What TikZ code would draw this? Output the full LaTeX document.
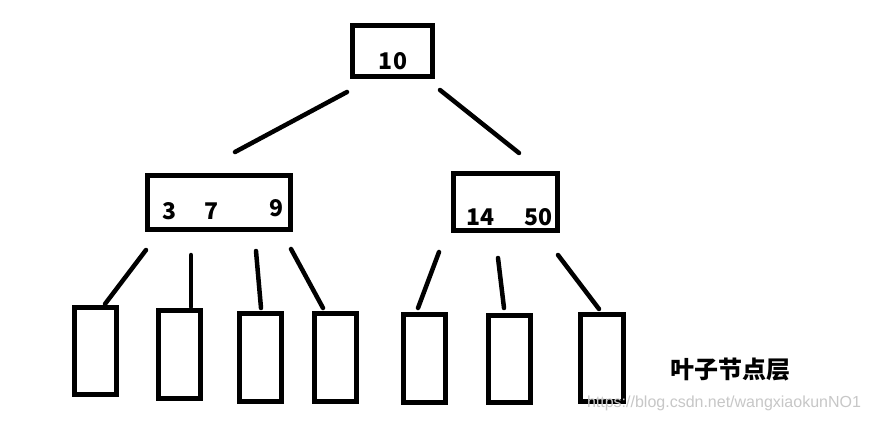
\documentclass[tikz,border=0pt]{standalone}
\usepackage{fontspec}
\setmainfont{Noto Sans CJK SC}
\newfontfamily\wmfont{Liberation Sans}
\begin{document}
\begin{tikzpicture}[x=1pt,y=-1pt,
  box/.style={draw,line width=5pt,inner sep=0pt,minimum width=#1},
  lbl/.style={font=\fontsize{23}{27}\selectfont\bfseries,inner sep=0pt},
  edge/.style={line width=4.5pt,line cap=round}]
\useasboundingbox[fill=white] (0,0) rectangle (869,423);
% nodes
\node[box=80pt,minimum height=51pt] (root) at (392.5,51) {};
\node[box=143pt,minimum height=54pt] (left) at (219,202.5) {};
\node[box=104pt,minimum height=57pt] (right) at (505.5,202) {};
\node[box=42pt,minimum height=87pt] (L1) at (95.5,351) {};
\node[box=42pt,minimum height=88pt] (L2) at (179.5,354.5) {};
\node[box=42pt,minimum height=88pt] (L3) at (260.5,357.5) {};
\node[box=42pt,minimum height=88pt] (L4) at (335.5,357.5) {};
\node[box=42pt,minimum height=88pt] (L5) at (424.5,358.5) {};
\node[box=42pt,minimum height=87pt] (L6) at (509.5,359) {};
\node[box=43pt,minimum height=87pt] (L7) at (602,358) {};
% texts
\node[lbl] (t10) at (393,61) {10};
\node[lbl] (t3) at (170,211) {3};
\node[lbl] (t7) at (212,211) {7};
\node[lbl] (t9) at (276,208) {9};
\node[lbl] (t14) at (480,217) {14};
\node[lbl] (t50) at (538,217) {50};
\node[lbl,font=\fontsize{24}{28}\selectfont\bfseries] (layer) at (730,370) {叶子节点层};
\node[inner sep=0pt,text=black!22,font=\wmfont\fontsize{16}{18}\selectfont] (wm) at (724,403) {https://blog.csdn.net/wangxiaokunNO1};
% connector ends
\coordinate (ra) at (347,92);  \coordinate (rb) at (235,152);
\coordinate (rc) at (440,90);  \coordinate (rd) at (519,153);
\coordinate (a1) at (146,250); \coordinate (b1) at (105,304);
\coordinate (a2) at (191,255); \coordinate (b2) at (191,307);
\coordinate (a3) at (256,251); \coordinate (b3) at (261,308);
\coordinate (a4) at (291,249); \coordinate (b4) at (323,308);
\coordinate (a5) at (439,252); \coordinate (b5) at (418,308);
\coordinate (a6) at (498,258); \coordinate (b6) at (504,308);
\coordinate (a7) at (558,255); \coordinate (b7) at (599,309);
% connectors
\draw[edge] (ra) -- (rb);
\draw[edge] (rc) -- (rd);
\foreach \i in {1,...,7} { \draw[edge] (a\i) -- (b\i); }
\end{tikzpicture}
\end{document}
